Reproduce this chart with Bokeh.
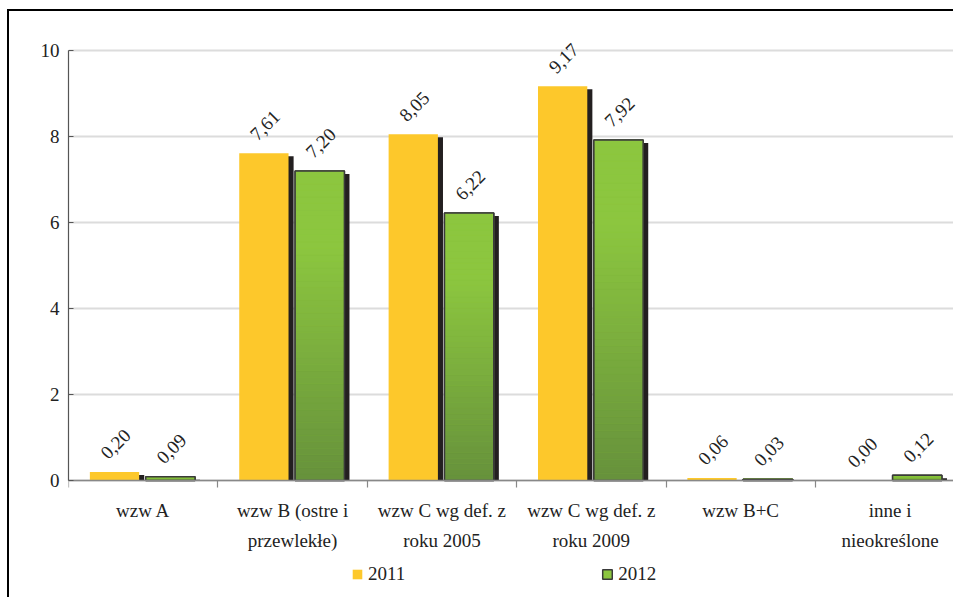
import math

from bokeh.core.properties import value
from bokeh.embed import file_html
from bokeh.models import FixedTicker, Legend, LegendItem, Range1d
from bokeh.plotting import figure
from bokeh.resources import INLINE

# ---- data -------------------------------------------------------------
categories = [
    "wzw A",
    "wzw B (ostre i\nprzewlekłe)",
    "wzw C wg def. z\nroku 2005",
    "wzw C wg def. z\nroku 2009",
    "wzw B+C",
    "inne i\nnieokreślone",
]
series_names = ["2011", "2012"]
values_2011 = [0.20, 7.61, 8.05, 9.17, 0.06, 0.00]
values_2012 = [0.09, 7.20, 6.22, 7.92, 0.03, 0.12]
y_ticks = [0, 2, 4, 6, 8, 10]

# ---- styling ----------------------------------------------------------
FONT = "'Liberation Serif', 'Times New Roman', serif"
GLYPH_FONT = "serif"
YELLOW = "#FDC82B"
GREEN_LIGHT = (140, 198, 63)
GREEN_DARK = (102, 145, 60)
SHADOW = "#231F20"
OUTLINE = "#3A3A3A"
TEXT = "#222222"

BAR_W = 0.33
OFF_2011 = 0.308
OFF_2012 = 0.682
SH_DX = 0.034   # drop shadow shift to the right (data units)
SH_DY = 0.07    # drop shadow shift downwards (data units)

n = len(categories)
x_2011 = [i + OFF_2011 for i in range(n)]
x_2012 = [i + OFF_2012 for i in range(n)]


def fmt(v):
    return f"{v:.2f}".replace(".", ",")


def green_at(f):
    t = min(1.0, f / 0.75)
    r, g, b = (round(d + (l - d) * t) for d, l in zip(GREEN_DARK, GREEN_LIGHT))
    return f"#{r:02x}{g:02x}{b:02x}"


# The plot frame covers the whole canvas below/right of the y axis so the
# category labels and the legend (drawn under the zero line) stay visible.
p = figure(
    width=946,
    height=588,
    x_range=Range1d(0, 5.938),
    y_range=Range1d(-2.767, 10.907),
    output_backend="svg",
    toolbar_location=None,
    min_border_left=59,
    min_border_top=0,
    min_border_right=0,
    min_border_bottom=0,
)
p.styles = {
    "margin-left": "7px",
    "margin-top": "9px",
    "border-left": "2px solid #000000",
    "border-top": "2px solid #000000",
}
p.outline_line_color = None
p.background_fill_color = "white"
p.border_fill_color = "white"

# ---- drop shadows -----------------------------------------------------
for xs, vals in ((x_2011, values_2011), (x_2012, values_2012)):
    p.quad(
        left=[x - BAR_W / 2 + SH_DX for x in xs],
        right=[x + BAR_W / 2 + SH_DX for x in xs],
        bottom=[0] * n,
        top=[max(v - SH_DY, 0) for v in vals],
        fill_color=SHADOW,
        line_color=None,
    )

# ---- 2011 bars --------------------------------------------------------
r2011 = p.vbar(x=x_2011, top=values_2011, bottom=0, width=BAR_W,
               fill_color=YELLOW, line_color=None)

# ---- 2012 bars (base + vertical gradient + outline) -------------------
r2012 = p.vbar(x=x_2012, top=values_2012, bottom=0, width=BAR_W,
               fill_color=green_at(1.0), line_color=OUTLINE, line_width=1.5)

steps = 48
gl, gr, gb, gt, gc = [], [], [], [], []
for x, v in zip(x_2012, values_2012):
    for k in range(steps):
        gl.append(x - BAR_W / 2)
        gr.append(x + BAR_W / 2)
        gb.append(v * k / steps)
        gt.append(v * (k + 1) / steps)
        gc.append(green_at((k + 0.5) / steps))
p.quad(left=gl, right=gr, bottom=gb, top=gt, fill_color=gc, line_color=gc,
       line_width=0.5)
p.vbar(x=x_2012, top=values_2012, bottom=0, width=BAR_W,
       fill_color=None, line_color=OUTLINE, line_width=1.5)

# ---- value labels -----------------------------------------------------
for xs, vals in ((x_2011, values_2011), (x_2012, values_2012)):
    p.text(
        x=xs,
        y=vals,
        text=[fmt(v) for v in vals],
        angle=math.pi / 4,
        x_offset=1,
        y_offset=-28,
        text_align="center",
        text_baseline="middle",
        text_font=value(GLYPH_FONT),
        text_font_size="19px",
        text_color=TEXT,
    )

# ---- axes & grid ------------------------------------------------------
yax = p.yaxis[0]
yax.ticker = FixedTicker(ticks=y_ticks)
yax.bounds = (0, 10)
yax.axis_line_color = "#555555"
yax.axis_line_width = 1.2
yax.major_tick_in = 5
yax.major_tick_out = 0
yax.major_tick_line_color = "#555555"
yax.minor_tick_line_color = None
yax.major_label_text_font = FONT
yax.major_label_text_font_size = "19px"
yax.major_label_text_color = TEXT
yax.major_label_standoff = 9

xax = p.xaxis[0]
xax.fixed_location = 0
xax.ticker = FixedTicker(ticks=[i + 0.5 for i in range(n)],
                         minor_ticks=list(range(n + 1)))
xax.major_label_overrides = {i + 0.5: c for i, c in enumerate(categories)}
xax.axis_line_color = "#888888"
xax.axis_line_width = 1.5
xax.major_tick_in = 0
xax.major_tick_out = 0
xax.minor_tick_in = 0
xax.minor_tick_out = 7
xax.minor_tick_line_color = "#888888"
xax.minor_tick_line_width = 1.2
xax.major_label_text_font = FONT
xax.major_label_text_font_size = "19px"
xax.major_label_text_color = TEXT
xax.major_label_text_line_height = 1.45
xax.major_label_standoff = 12

p.xgrid.grid_line_color = None
p.ygrid.ticker = FixedTicker(ticks=y_ticks)
p.ygrid.grid_line_color = "#DCDCDC"
p.ygrid.grid_line_width = 2

# ---- legend -----------------------------------------------------------
legend = Legend(
    items=[
        LegendItem(label=series_names[0], renderers=[r2011]),
        LegendItem(label=series_names[1], renderers=[r2012]),
    ],
    location=(283, 14),
    orientation="horizontal",
    spacing=196,
    padding=0,
    margin=0,
    border_line_color=None,
    background_fill_alpha=0,
    glyph_width=12,
    glyph_height=12,
    label_standoff=5,
    label_height=12,
    label_text_font=GLYPH_FONT,
    label_text_font_size="19px",
    label_text_color=TEXT,
)
p.add_layout(legend)

open("out.html", "w").write(file_html(p, INLINE))
